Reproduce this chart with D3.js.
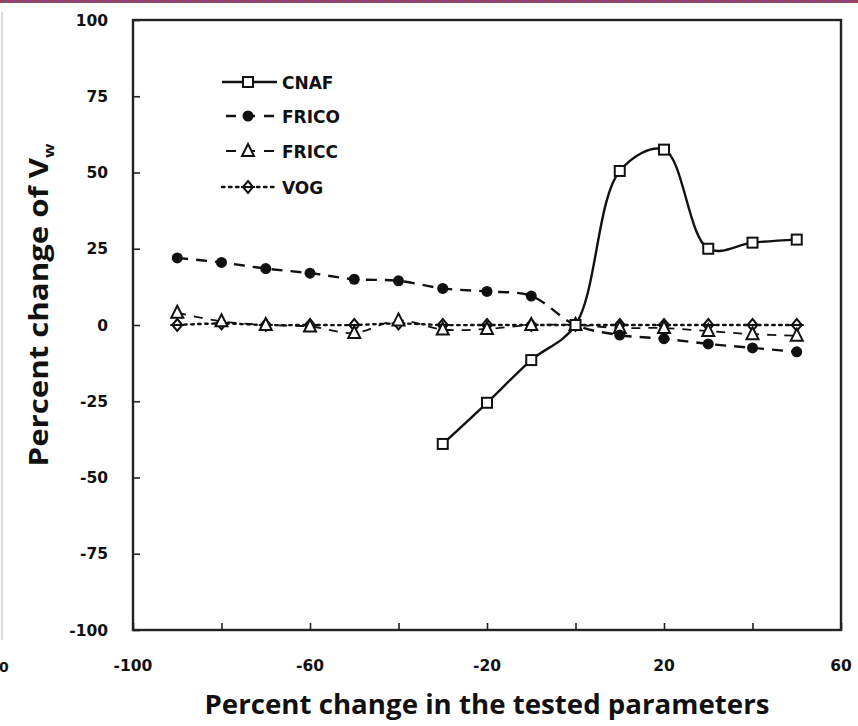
<!DOCTYPE html>
<html><head><meta charset="utf-8">
<script src="https://cdn.jsdelivr.net/npm/d3@7"></script>
<style>body{margin:0;background:#fff}svg{display:block}</style>
</head><body>
<script>
const xCnaf = [-30, -20, -10, 0, 10, 20, 30, 40, 50];
const cnaf = [-39, -25.5, -11.5, 0, 50.5, 57.5, 25, 27, 28];
const xAll = [-90, -80, -70, -60, -50, -40, -30, -20, -10, 0, 10, 20, 30, 40, 50];
const frico = [22, 20.5, 18.5, 17, 15, 14.5, 12, 11, 9.5, 0, -3.3, -4.5, -6.2, -7.5, -8.8];
const fricc = [4, 1.2, 0, -0.5, -2.6, 1.5, -1.5, -1.3, 0, 0, -1, -1, -2, -3, -3.5];
const vog = [0, 0.5, 0, 0, 0, 0.5, 0, 0, 0, 0, 0, 0, 0, 0, 0];
const xTicks = [-100, -80, -60, -40, -20, 0, 20, 40, 60];
const xLabels = [-100, -60, -20, 20, 60];
const yTicks = [100, 75, 50, 25, 0, -25, -50, -75, -100];
const seriesNames = ["CNAF", "FRICO", "FRICC", "VOG"];

const W = 858, H = 726;
const svg = d3.select("body").append("svg").attr("width", W).attr("height", H);

// top decorative border
const border = svg.append("g");
for (let i = 0; i < W; i += 4) {
  border.append("rect").attr("x", i).attr("y", 0).attr("width", 2).attr("height", 3).attr("fill", "#c0392b");
  border.append("rect").attr("x", i + 2).attr("y", 0).attr("width", 2).attr("height", 3).attr("fill", "#5b4fb0");
}
svg.append("line").attr("x1", 2).attr("x2", 2).attr("y1", 12).attr("y2", 640).attr("stroke", "#ccc").attr("stroke-width", 1.5);
svg.append("text").attr("x", -1).attr("y", 672).attr("font-family", "DejaVu Sans").attr("font-weight", "bold").attr("font-size", 14).attr("fill", "#111").text("0");

const L = 133, R = 841, T = 20, B = 630;
const x = d3.scaleLinear().domain([-100, 60]).range([L, R]);
const y = d3.scaleLinear().domain([-100, 100]).range([B, T]);

// frame
svg.append("rect").attr("x", L).attr("y", T).attr("width", R - L).attr("height", B - T)
  .attr("fill", "none").attr("stroke", "#222").attr("stroke-width", 2.4);

// axes with inward ticks
const xAxis = d3.axisBottom(x).tickValues(xTicks).tickSize(-7).tickFormat("");
svg.append("g").attr("transform", `translate(0,${B})`).call(xAxis)
  .call(g => { g.select(".domain").remove(); g.selectAll("line").attr("stroke", "#222").attr("stroke-width", 1.6); });
const yAxis = d3.axisLeft(y).tickValues(yTicks).tickSize(-7).tickFormat("");
svg.append("g").attr("transform", `translate(${L},0)`).call(yAxis)
  .call(g => { g.select(".domain").remove(); g.selectAll("line").attr("stroke", "#222").attr("stroke-width", 1.6); });

const tickFont = "DejaVu Sans";
svg.append("g").selectAll("text").data(xLabels).join("text")
  .attr("x", d => x(d)).attr("y", B + 41).attr("text-anchor", "middle")
  .attr("font-family", tickFont).attr("font-weight", "bold").attr("font-size", 15.5).attr("fill", "#111")
  .text(d => d);
svg.append("g").selectAll("text").data(yTicks).join("text")
  .attr("x", 108).attr("y", d => y(d) + 5.5).attr("text-anchor", "end")
  .attr("font-family", tickFont).attr("font-weight", "bold").attr("font-size", 15.5).attr("fill", "#111")
  .text(d => d);

// axis titles
svg.append("text").attr("x", 487).attr("y", 714).attr("text-anchor", "middle")
  .attr("font-family", "Open Sans").attr("font-weight", "bold").attr("font-size", 26).attr("fill", "#111")
  .attr("textLength", 565).attr("lengthAdjust", "spacingAndGlyphs")
  .text("Percent change in the tested parameters");
const yt = svg.append("text").attr("transform", `translate(48,${305}) rotate(-90) scale(1.2,1)`).attr("text-anchor", "middle")
  .attr("font-family", "Open Sans").attr("font-weight", "bold").attr("font-size", 26).attr("fill", "#111");
yt.append("tspan").text("Percent change of V");
yt.append("tspan").attr("font-size", 14).attr("dy", 6).text("w");

const plot = svg.append("g");
const line = d3.line().x(d => x(d[0])).y(d => y(d[1])).curve(d3.curveCatmullRom.alpha(0.5));

const styles = {
  CNAF: { dash: null, width: 2.4 },
  FRICO: { dash: "11,8", width: 2.4 },
  FRICC: { dash: "9,8", width: 1.8 },
  VOG: { dash: "2.5,4.5", width: 2.4 }
};
const data = {
  CNAF: xCnaf.map((v, i) => [v, cnaf[i]]),
  FRICO: xAll.map((v, i) => [v, frico[i]]),
  FRICC: xAll.map((v, i) => [v, fricc[i]]),
  VOG: xAll.map((v, i) => [v, vog[i]])
};

function marker(g, name, cx, cy) {
  if (name === "CNAF") {
    g.append("rect").attr("x", cx - 5).attr("y", cy - 5).attr("width", 10).attr("height", 10)
      .attr("fill", "#fff").attr("stroke", "#111").attr("stroke-width", 2);
  } else if (name === "FRICO") {
    g.append("circle").attr("cx", cx).attr("cy", cy).attr("r", 5.5).attr("fill", "#111");
  } else if (name === "FRICC") {
    g.append("path").attr("d", `M${cx},${cy - 7}L${cx + 6},${cy + 5}L${cx - 6},${cy + 5}Z`)
      .attr("fill", "#fff").attr("stroke", "#111").attr("stroke-width", 2);
  } else {
    g.append("path").attr("d", `M${cx},${cy - 6}L${cx + 5},${cy}L${cx},${cy + 6}L${cx - 5},${cy}Z`)
      .attr("fill", "#fff").attr("stroke", "#111").attr("stroke-width", 2);
    g.append("line").attr("x1", cx - 7).attr("x2", cx + 7).attr("y1", cy).attr("y2", cy)
      .attr("stroke", "#111").attr("stroke-width", 2);
  }
}

["VOG", "FRICC", "FRICO", "CNAF"].forEach(name => {
  const s = styles[name];
  plot.append("path").datum(data[name]).attr("d", line).attr("fill", "none")
    .attr("stroke", "#111").attr("stroke-width", s.width)
    .attr("stroke-dasharray", s.dash).attr("stroke-linecap", name === "VOG" ? "round" : "butt");
});
["VOG", "FRICC", "FRICO", "CNAF"].forEach(name => {
  const g = plot.append("g");
  data[name].forEach(d => marker(g, name, x(d[0]), y(d[1])));
});

// legend
const legY = [82, 116, 151, 187];
const lg = svg.append("g");
seriesNames.forEach((name, i) => {
  const s = styles[name];
  const yy = legY[i];
  lg.append("line").attr("x1", 222).attr("x2", 277).attr("y1", yy).attr("y2", yy)
    .attr("stroke", "#111").attr("stroke-width", s.width).attr("stroke-dasharray", name === "VOG" ? "2.5,4.5" : (name === "CNAF" ? null : "10,9"))
    .attr("stroke-dashoffset", name === "FRICO" || name === "FRICC" ? -4 : 0)
    .attr("stroke-linecap", name === "VOG" ? "round" : "butt");
  marker(lg, name, 248, yy);
  lg.append("text").attr("x", 282).attr("y", yy + 6.5).attr("font-family", "DejaVu Sans")
    .attr("font-weight", "bold").attr("font-size", 17).attr("fill", "#111").text(name);
});
</script>
</body></html>
